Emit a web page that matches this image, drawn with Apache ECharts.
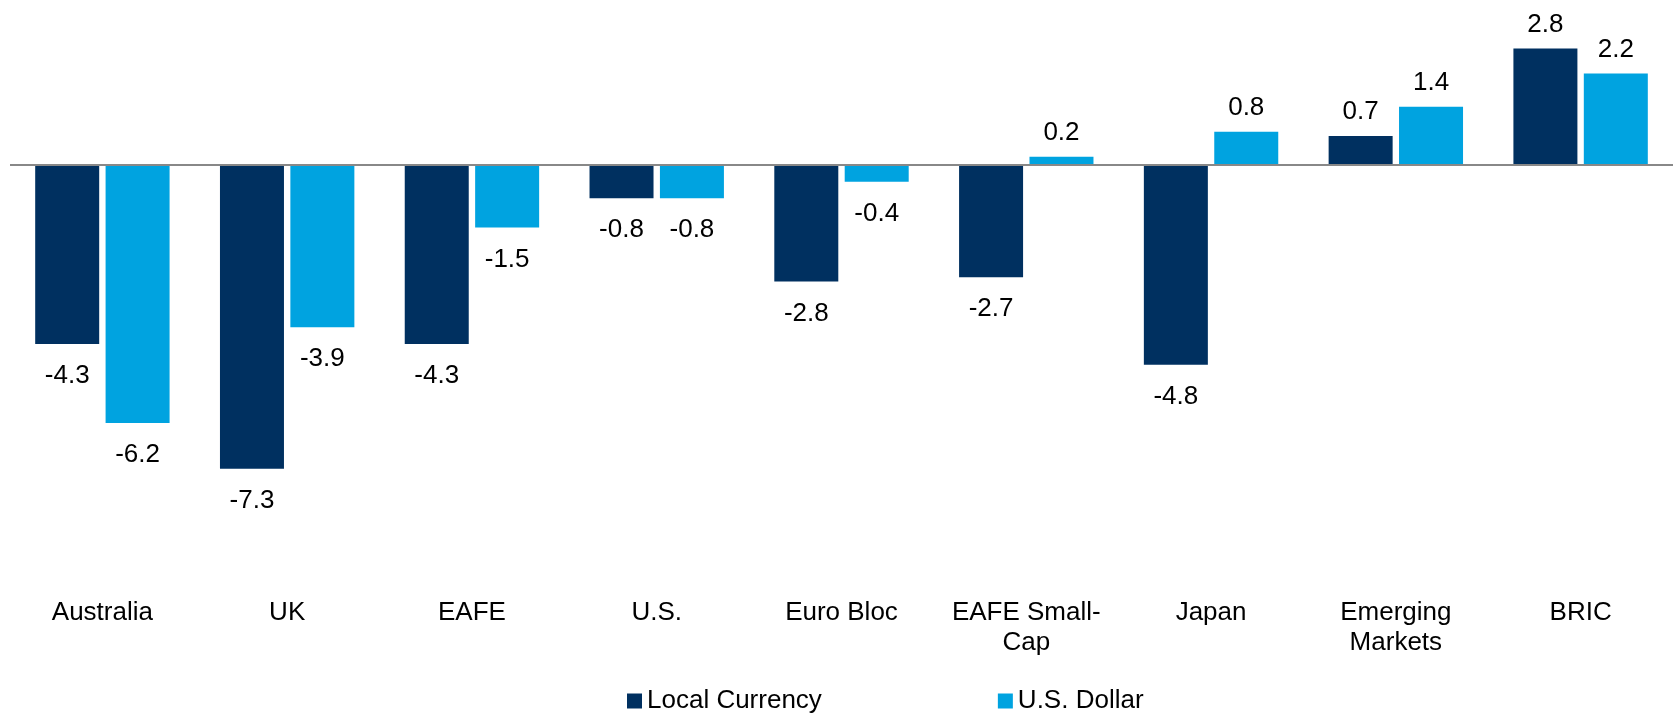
<!DOCTYPE html>
<html>
<head>
<meta charset="utf-8">
<title>Local Currency vs U.S. Dollar</title>
<script src="https://cdn.jsdelivr.net/npm/echarts@6/dist/echarts.min.js"></script>
<style>
  html, body { margin: 0; padding: 0; background: #fff; }
  #chart { width: 1673px; height: 713px; }
</style>
</head>
<body>
<div id="chart"></div>
<script>
// categories and values
var categories = ["Australia", "UK", "EAFE", "U.S.", "Euro Bloc", "EAFE Small-\nCap", "Japan", "Emerging\nMarkets", "BRIC"];
var localCurrency = [-4.3, -7.3, -4.3, -0.8, -2.8, -2.7, -4.8, 0.7, 2.8];
var usDollar = [-6.2, -3.9, -1.5, -0.8, -0.4, 0.2, 0.8, 1.4, 2.2];

var FONT = "'Liberation Sans', Arial, sans-serif";

// labels above positive bars, below negative ones
function withLabels(values) {
  return values.map(function (v) {
    return {
      value: v,
      label: {
        position: v >= 0 ? "top" : "bottom",
        distance: v >= 0 ? 11 : 19
      }
    };
  });
}

var label = {
  show: true,
  color: "#000",
  fontFamily: FONT,
  fontSize: 26,
  formatter: function (p) { return p.value.toFixed(1); }
};

var myChart = echarts.init(document.getElementById("chart"));
myChart.setOption({
  animation: false,
  color: ["#003060", "#00a3e0"],
  textStyle: { fontFamily: FONT },
  legend: {
    data: ["Local Currency", "U.S. Dollar"],
    left: 622,
    top: 683,
    icon: "rect",
    itemWidth: 15,
    itemHeight: 15,
    itemGap: 176,
    textStyle: { color: "#000", fontSize: 26, fontFamily: FONT }
  },
  grid: {
    left: 10,
    top: 40.2,
    width: 1667,
    height: 457.6
  },
  xAxis: {
    type: "category",
    data: categories,
    axisLine: { show: false, onZero: false },
    axisTick: { show: false },
    axisLabel: {
      margin: 100,
      color: "#000",
      fontSize: 26,
      lineHeight: 30,
      fontFamily: FONT,
      interval: 0
    }
  },
  yAxis: {
    type: "value",
    min: -8,
    max: 3,
    show: false,
    splitLine: { show: false }
  },
  series: [
    {
      name: "Local Currency",
      type: "bar",
      barWidth: 64,
      barGap: "10%",
      data: withLabels(localCurrency),
      label: label,
      markLine: {
        silent: true,
        symbol: "none",
        label: { show: false },
        lineStyle: { color: "#888888", width: 2, type: "solid" },
        data: [{ yAxis: 0 }]
      }
    },
    {
      name: "U.S. Dollar",
      type: "bar",
      barWidth: 64,
      barGap: "10%",
      data: withLabels(usDollar),
      label: label
    }
  ]
});
</script>
</body>
</html>
